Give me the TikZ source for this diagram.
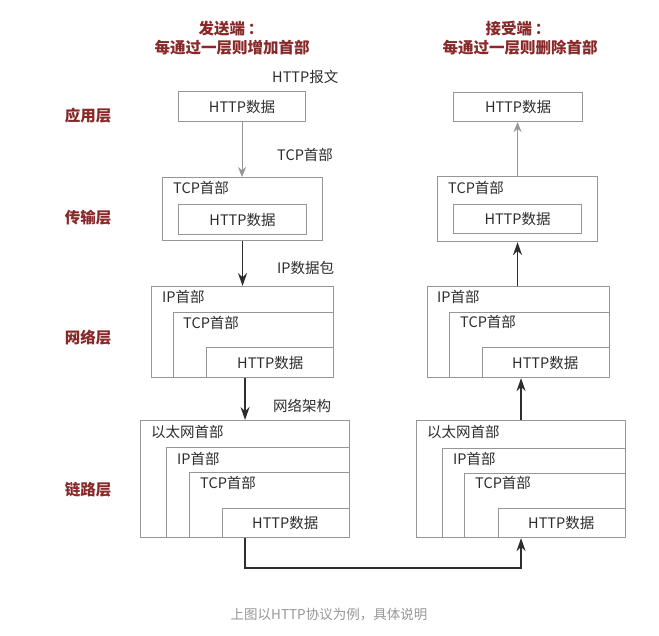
\documentclass[tikz,border=0pt]{standalone}
\usepackage{fontspec}
\setmainfont{Noto Sans CJK SC}
\usepackage{tikz}
\usetikzlibrary{arrows.meta,positioning}
\definecolor{boxgray}{RGB}{150,150,150}
\definecolor{titlered}{RGB}{136,40,40}
\definecolor{txtgray}{RGB}{45,45,45}
\definecolor{capgray}{RGB}{150,150,150}
\tikzstyle{box}=[draw=boxgray,line width=1.1pt,inner sep=0pt,anchor=north west]
\tikzstyle{lbl}=[anchor=west,inner sep=0pt,text=txtgray,font=\fontsize{14.5}{16}\selectfont]
\tikzstyle{ctr}=[inner sep=0pt,text=txtgray,font=\fontsize{14.5}{16}\selectfont]
\tikzstyle{title}=[inner sep=0pt,text=titlered,font=\fontsize{15.5}{17}\selectfont\bfseries]
\tikzstyle{thin}=[-{Stealth[length=10pt,width=8pt]},draw=boxgray,line width=1.1pt]
\tikzstyle{thick}=[-{Stealth[length=13pt,width=9pt]},draw=txtgray,line width=1.8pt]

\begin{document}
\begin{tikzpicture}[x=1pt,y=-1pt]
  \useasboundingbox (0,0) rectangle (659,635);
  % titles
  \node[title] (st1) at (231,29) {发送端\,：};
  \node[title] (st2) at (232,48) {每通过一层则增加首部};
  \node[title] (rt1) at (518,29) {接受端\,：};
  \node[title] (rt2) at (520,48) {每通过一层则删除首部};
  % layers
  \node[title] (l1) at (88,116) {应用层};
  \node[title] (l2) at (88,218) {传输层};
  \node[title] (l3) at (88,338) {网络层};
  \node[title] (l4) at (88,490) {链路层};

  % sender
  \node[box,minimum width=127pt,minimum height=30pt] (lapp) at (178,91) {};
  \node[ctr] (lapptxt) at (lapp.center) {HTTP数据};
  \node[box,minimum width=160pt,minimum height=63pt] (ltcp) at (162,177) {};
  \node[box,minimum width=128pt,minimum height=30pt] (ltcph) at (178,204) {};
  \node[lbl] (ltcptxt) at (173,188) {TCP首部};
  \node[ctr] (ltcphtxt) at (ltcph.center) {HTTP数据};
  \node[box,minimum width=182pt,minimum height=91pt] (lip) at (151,286) {};
  \node[box,minimum width=160pt,minimum height=65pt] (lipt) at (173,312) {};
  \node[box,minimum width=127pt,minimum height=30pt] (liph) at (206,347) {};
  \node[lbl] (liptxt) at (162,297) {IP首部};
  \node[lbl] (lipttxt) at (183,323) {TCP首部};
  \node[lbl] (liphtxt) at (237,363) {HTTP数据};
  \node[box,minimum width=209pt,minimum height=117pt] (leth) at (140,420) {};
  \node[box,minimum width=183pt,minimum height=90pt] (lethi) at (166,447) {};
  \node[box,minimum width=160pt,minimum height=65pt] (letht) at (189,472) {};
  \node[box,minimum width=127pt,minimum height=29pt] (lethh) at (222,508) {};
  \node[lbl] (lethtxt) at (151,432) {以太网首部};
  \node[lbl] (lethitxt) at (177,459) {IP首部};
  \node[lbl] (lethttxt) at (200,483) {TCP首部};
  \node[lbl] (lethhtxt) at (252,523) {HTTP数据};

  % receiver
  \node[box,minimum width=129pt,minimum height=29pt] (rapp) at (453,92) {};
  \node[ctr] (rapptxt) at (rapp.center) {HTTP数据};
  \node[box,minimum width=160pt,minimum height=65pt] (rtcp) at (437,176) {};
  \node[box,minimum width=128pt,minimum height=29pt] (rtcph) at (453,204) {};
  \node[lbl] (rtcptxt) at (448,188) {TCP首部};
  \node[ctr] (rtcphtxt) at (rtcph.center) {HTTP数据};
  \node[box,minimum width=182pt,minimum height=91pt] (rip) at (427,286) {};
  \node[box,minimum width=160pt,minimum height=65pt] (ript) at (449,312) {};
  \node[box,minimum width=127pt,minimum height=30pt] (riph) at (482,347) {};
  \node[lbl] (riptxt) at (437,297) {IP首部};
  \node[lbl] (ripttxt) at (460,322) {TCP首部};
  \node[lbl] (riphtxt) at (512,363) {HTTP数据};
  \node[box,minimum width=209pt,minimum height=117pt] (reth) at (416,420) {};
  \node[box,minimum width=183pt,minimum height=89pt] (rethi) at (442,448) {};
  \node[box,minimum width=161pt,minimum height=64pt] (retht) at (464,473) {};
  \node[box,minimum width=127pt,minimum height=29pt] (rethh) at (498,508) {};
  \node[lbl] (rethtxt) at (427,432) {以太网首部};
  \node[lbl] (rethitxt) at (453,459) {IP首部};
  \node[lbl] (rethttxt) at (475,483) {TCP首部};
  \node[lbl] (rethhtxt) at (528,523) {HTTP数据};

  % arrow labels
  \node[lbl] (a1) at (272,77) {HTTP报文};
  \node[lbl] (a2) at (277,155) {TCP首部};
  \node[lbl] (a3) at (277,268) {IP数据包};
  \node[lbl] (a4) at (273,406) {网络架构};

  % arrows
  \draw[thin] (lapp.south) -- (lapp.south |- ltcp.north);
  \draw[thick] (ltcp.south) -- (ltcp.south |- lip.north);
  \draw[thick] (leth.north |- lip.south) -- (leth.north);
  \draw[thick] (leth.south) -- ++(0,30) -| (reth.south);
  \draw[thick] (reth.north) -- (reth.north |- rip.south);
  \draw[thick] (rtcp.south |- rip.north) -- (rtcp.south);
  \draw[thin] (rtcp.north) -- (rtcp.north |- rapp.south);

  \node[inner sep=0pt,text=capgray,font=\fontsize{13.5}{15}\selectfont] (cap) at (329,615) {上图以HTTP协议为例，具体说明};
\end{tikzpicture}
\end{document}
